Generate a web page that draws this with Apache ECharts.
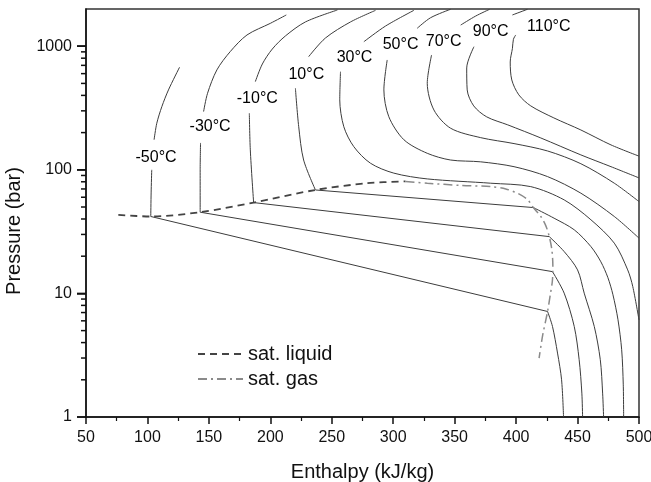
<!DOCTYPE html>
<html>
<head>
<meta charset="UTF-8">
<title>ph_isotherms</title>
<script src="https://cdn.jsdelivr.net/npm/echarts@6/dist/echarts.min.js"></script>
<style>html,body{margin:0;padding:0;background:#fff;}</style>
</head>
<body>
<div id="mainChart" style="width:651px;height:482px;"></div>
<script>
// [enthalpy kJ/kg, pressure bar]; gap breaks a line where a label sits
const gap = ['-', '-']

const satLiquid = [[76.3, 43.2], [102.7, 41.9], [142.9, 45.4], [186.4, 54.3], [236.7, 68.7], [278.8, 77.9], [310.0, 80.6]]
const satGas = [[310.0, 80.6], [327.7, 77.9], [354.9, 74.8], [379.3, 73.1], [391.6, 70.0], [402.2, 63.8], [409.5, 57.1],
    [414.0, 49.5], [420.1, 41.9], [424.2, 35.2], [427.0, 28.8], [429.1, 22.5], [429.9, 16.7], [429.5, 12.6],
    [427.8, 9.75], [425.6, 7.14], [421.7, 4.63], [418.7, 3.0]]

// -50 C
const m50Liquid = [[102.7, 41.9], [103.0, 65], [103.5, 100], gap, [105.4, 175], [107.6, 238], [111.7, 324], [117.1, 443], [126.1, 675]]
const m50TwoPhase = [[102.7, 41.9], [425.6, 7.14]]
const m50Vapour = [[425.6, 7.14], [429.6, 5.4], [433.7, 3.29], [437.0, 2.0], [438.6, 1.0]]
// -30 C
const m30Liquid = [[142.9, 45.4], [142.9, 100], [143.2, 165], gap, [145.7, 296], [148.9, 416], [156.5, 643], [167.4, 905], [181.0, 1233], [200.0, 1531], [213.0, 1790]]
const m30TwoPhase = [[142.9, 45.4], [429.6, 15.0]]
const m30Vapour = [[429.6, 15.0], [439.1, 10.05], [447.3, 5.4], [451.3, 2.91], [453.5, 1.56], [454.1, 1.0]]
// -10 C
const m10Liquid = [[186.4, 54.3], [183.7, 145], [182.9, 287], gap, [187.8, 517], [193.5, 718], [201.6, 949], [212.2, 1209], [228.5, 1571], [254.6, 1963]]
const m10TwoPhase = [[186.4, 54.3], [427.0, 28.8]]
const m10Vapour = [[427.0, 28.8], [439.1, 21.8], [450.0, 15.5], [455.4, 10.05], [463.6, 5.40], [468.5, 2.91], [470.4, 1.56], [471.2, 1.0]]
// 10 C
const p10Liquid = [[236.7, 68.7], [227.1, 120], [223.1, 223], [220.4, 457], gap, [231.2, 823], [244.8, 1164], [265.2, 1571], [285.6, 1950]]
const p10TwoPhase = [[236.7, 68.7], [414.0, 49.5]]
const p10Vapour = [[414.0, 49.5], [430.9, 40.6], [447.3, 32.7], [460.9, 23.9], [469.0, 18.0], [474.7, 13.4], [478.8, 9.75], [482.9, 6.12], [485.9, 3.5], [487.2, 1.82], [487.5, 1.0]]
// supercritical
const p30 = [[316.8, 1950], [293.7, 1455], [276.1, 1087], gap, [257.1, 622], [256.5, 368], [259.8, 223], [267.9, 154], [281.5, 113], [300.5, 94],
    [327.7, 84.4], [379.3, 77.9], [411.9, 73.1], [439.1, 57.1], [460.9, 39.4], [479.9, 25.5], [490.8, 15.5], [494.9, 11.4], [500, 6.1]]
const p50 = [[346.7, 1990], [330.4, 1700], [319.5, 1396], gap, [295.1, 774], [292.4, 443], [296.4, 269], [308.7, 175], [327.7, 136],
    [346.7, 120], [371.2, 116], [398.3, 106], [425.6, 88.1], [452.7, 64.7], [479.9, 41.9], [500, 28.0]]
const p70 = [[378.5, 1990], [367.1, 1754], [354.9, 1483], gap, [331.2, 849], [327.7, 501], [333.1, 305], [346.7, 217], [371.2, 182],
    [398.3, 163], [425.6, 142], [452.7, 112], [479.9, 77.9], [500, 55.3]]
const p90 = [[409.3, 1990], [397.0, 1790], gap, [365.7, 991], [359.8, 667], [360.2, 443], [365.5, 329], [376.1, 268], [393.2, 231],
    [420.1, 181], [452.7, 132], [477.2, 106], [500, 86]]
const p110 = [[399.7, 1233], [397.8, 1137], [397.0, 961], [395.2, 745], [396.5, 533], [402.2, 404], [411.9, 329], [430.7, 263],
    [452.7, 210], [477.2, 159], [500, 129]]

const isoLabelText = ['-50°C', '-30°C', '-10°C', '10°C', '30°C', '50°C', '70°C', '90°C', '110°C']
const isoLabelPos = [[107, 124.5], [151, 222], [189.4, 374], [229.3, 585], [268.5, 804], [306, 1023], [341, 1081], [379.3, 1303], [426.6, 1429]]

// ticks of the log pressure axis
const yMajorTicks = [1, 10, 100, 1000]
const yMinorTicks = [2, 3, 4, 5, 6, 7, 8, 9, 20, 30, 40, 50, 60, 70, 80, 90, 200, 300, 400, 500, 600, 700, 800, 900]

const font = 'Liberation Sans, Arial, sans-serif'
const ink = '#111'

function isoLine(data, smooth) {
    return {
        type: 'line', data: data, symbol: 'none', smooth: smooth, connectNulls: false,
        lineStyle: { color: '#3c3c3c', width: 1 }, silent: true, z: 2
    }
}

// outward tick marks on the left axis, placed through the axis scale
function yTicks(values, len) {
    return {
        type: 'custom', silent: true, clip: false, z: 6,
        data: values.map(v => [50, v]),
        renderItem: function (params, api) {
            const p = api.coord([api.value(0), api.value(1)])
            return {
                type: 'line',
                shape: { x1: p[0] - len, y1: p[1], x2: p[0], y2: p[1] },
                style: { stroke: ink, lineWidth: 1.5 }
            }
        }
    }
}

let series = []
;[m50Liquid, m30Liquid, m10Liquid, p10Liquid, p30, p50, p70, p90, p110,
  m50Vapour, m30Vapour, m10Vapour, p10Vapour].forEach(d => series.push(isoLine(d, 0.3)))
;[m50TwoPhase, m30TwoPhase, m10TwoPhase, p10TwoPhase].forEach(d => series.push(isoLine(d, false)))

series.push({
    name: 'sat. liquid', type: 'line', data: satLiquid, symbol: 'none', smooth: 0.3, z: 3,
    itemStyle: { color: '#444' },
    lineStyle: { color: '#444', width: 1.8, type: [7, 5] }
})
series.push({
    name: 'sat. gas', type: 'line', data: satGas, symbol: 'none', smooth: 0.3, z: 3,
    itemStyle: { color: '#8a8a8a' },
    lineStyle: { color: '#8a8a8a', width: 1.5, type: [9, 4, 2, 4] }
})
series.push({
    type: 'scatter', symbol: 'circle', symbolSize: 2, itemStyle: { color: '#fff', opacity: 1 }, silent: true, z: 5,
    data: isoLabelPos.map((p, i) => ({ value: p, name: isoLabelText[i] })),
    label: {
        show: true, position: 'inside', formatter: '{b}', color: '#000', opacity: 1,
        textBorderWidth: 0, fontSize: 16, fontFamily: font
    }
})
series.push(yTicks(yMajorTicks, 9))
series.push(yTicks(yMinorTicks, 5))

let option = {
    animation: false,
    grid: {
        left: 86, right: 12, top: 9, bottom: 65, outerBoundsMode: 'none', containLabel: false,
        show: true, borderColor: '#333', borderWidth: 1.5
    },
    legend: {
        data: ['sat. liquid', 'sat. gas'], orient: 'vertical', left: 192, top: 339,
        itemWidth: 45, itemHeight: 14, itemGap: 5,
        itemStyle: { opacity: 0 },
        textStyle: { fontSize: 20, color: ink, fontFamily: font }
    },
    xAxis: {
        type: 'value', min: 50, max: 500, interval: 50,
        axisLine: { show: true, lineStyle: { color: ink, width: 1.5 } },
        axisTick: { show: true, length: 7, lineStyle: { color: ink, width: 1.5 } },
        minorTick: { show: true, splitNumber: 2, length: 4, lineStyle: { color: ink, width: 1.2 } },
        splitLine: { show: false },
        axisLabel: { color: ink, fontSize: 16, margin: 13, fontFamily: font },
        name: 'Enthalpy (kJ/kg)', nameLocation: 'middle', nameGap: 45,
        nameTextStyle: { fontSize: 20, color: ink, fontFamily: font }
    },
    yAxis: {
        type: 'log', logBase: 10, min: 1, max: 2000,
        axisLine: { show: true, lineStyle: { color: ink, width: 1.5 } },
        axisTick: { show: true, length: 9, lineStyle: { color: ink, width: 1.5 } },
        splitLine: { show: false },
        axisLabel: { color: ink, fontSize: 16, margin: 14, fontFamily: font, showMaxLabel: false, formatter: v => String(v) }
    },
    graphic: [{
        type: 'text', x: 14, y: 231, rotation: Math.PI / 2,
        style: { text: 'Pressure (bar)', fontSize: 20, fontFamily: font, fill: ink, align: 'center', verticalAlign: 'middle' }
    }],
    series: series
}

let charts = echarts.init(document.querySelector('#mainChart'))
charts.setOption(option)
</script>
</body>
</html>
